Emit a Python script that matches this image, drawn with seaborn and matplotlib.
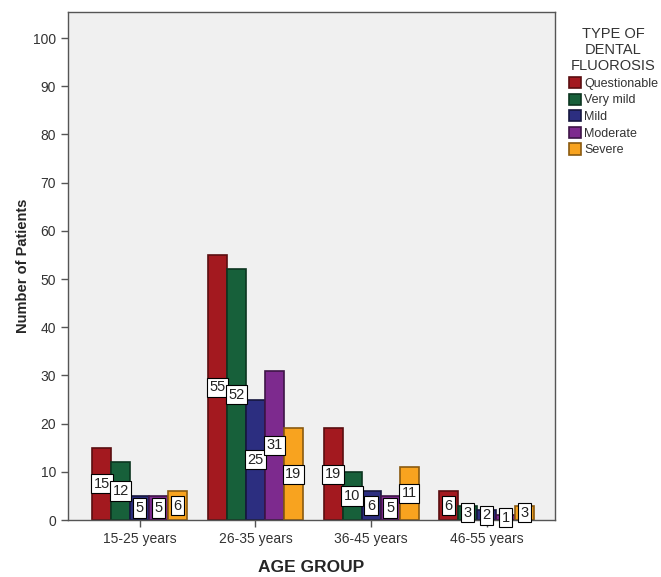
import matplotlib.pyplot as plt
import seaborn as sns
import pandas as pd

# Data
age_groups = ["15-25 years", "26-35 years", "36-45 years", "46-55 years"]
fluorosis_types = ["Questionable", "Very mild", "Mild", "Moderate", "Severe"]
questionable = [15, 55, 19, 6]
very_mild = [12, 52, 10, 3]
mild = [5, 25, 6, 2]
moderate = [5, 31, 5, 1]
severe = [6, 19, 11, 3]

colors = ["#a3191f", "#17603a", "#2c2e80", "#7d2a8e", "#f8a31f"]
edge_colors = ["#5a0e10", "#0c3520", "#16173f", "#3e1547", "#8a5a10"]

series = [questionable, very_mild, mild, moderate, severe]
rows = []
for t, vals in zip(fluorosis_types, series):
    for g, v in zip(age_groups, vals):
        rows.append({"AGE GROUP": g, "Type": t, "Count": v})
df = pd.DataFrame(rows)

sns.set_style("white")
plt.rcParams["font.family"] = ["Liberation Sans", "DejaVu Sans"]

fig = plt.figure(figsize=(6.61, 5.77), dpi=100)
ax = fig.add_axes([68 / 661, 1 - 520 / 577, (555 - 68) / 661, (520 - 12) / 577])
ax.set_facecolor("#f0f0f0")

sns.barplot(data=df, x="AGE GROUP", y="Count", hue="Type", order=age_groups,
            hue_order=fluorosis_types, palette=colors, width=0.82, ax=ax,
            linewidth=1.2, saturation=1)

for i, cont in enumerate(ax.containers):
    for bar in cont:
        bar.set_edgecolor(edge_colors[i])
    ax.bar_label(cont, label_type="center", fontsize=10.5, color="#222222",
                 bbox=dict(boxstyle="square,pad=0.18", fc="white", ec="black", lw=0.8))

ax.set_ylim(0, 105.4)
ax.set_xlim(-0.62, 3.59)
ax.set_yticks(range(0, 101, 10))
ax.tick_params(axis="both", direction="out", length=5, width=1, color="#555555",
               labelsize=10, labelcolor="#333333", left=True, bottom=True)
for s in ax.spines.values():
    s.set_color("#555555")
    s.set_linewidth(1)

ax.set_ylabel("Number of Patients", fontsize=10.5, fontweight="bold", labelpad=2)
ax.set_xlabel("AGE GROUP", fontsize=12.5, fontweight="bold", labelpad=10)

handles, labels = ax.get_legend_handles_labels()
for h, ec in zip(handles, edge_colors):
    h.set_edgecolor(ec)
ax.legend_.remove()
leg = fig.legend(handles, labels, title="TYPE OF\nDENTAL\nFLUOROSIS",
                 loc="upper left", bbox_to_anchor=(560 / 661, 1 - 18 / 577),
                 frameon=False, fontsize=9, title_fontsize=10.5,
                 handlelength=1.0, handleheight=1.0, handletextpad=0.25,
                 labelspacing=0.3, borderpad=0.2)
leg.get_title().set_multialignment("center")
leg.get_title().set_color("#333333")
for t in leg.get_texts():
    t.set_color("#333333")

fig.savefig("out.png", dpi=100)
